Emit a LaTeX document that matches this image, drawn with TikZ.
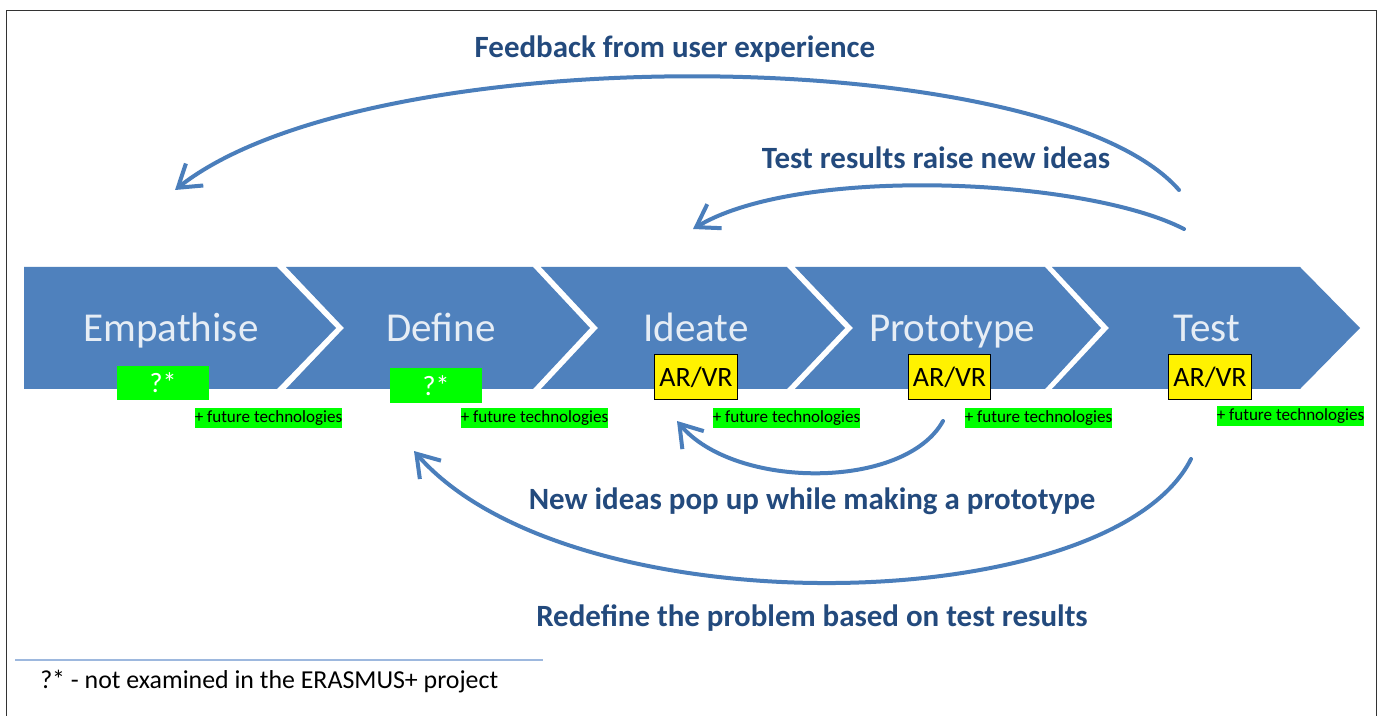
\documentclass[tikz,border=0pt]{standalone}
\usepackage{fontspec}
\setmainfont{Carlito}
\usetikzlibrary{arrows.meta}
\definecolor{chev}{HTML}{4F81BD}
\definecolor{lab}{HTML}{234A7D}
\definecolor{curve}{HTML}{4A7EBB}
\definecolor{stage}{HTML}{E6EDF5}
\definecolor{lime}{HTML}{00FF00}
\definecolor{rulec}{HTML}{9DB8DE}
\tikzset{
  x=0.75pt,y=-0.75pt,
  chevron/.style={fill=chev,draw=none},
  stagetext/.style={text=stage,font=\fontsize{30.8pt}{32pt}\selectfont,inner sep=0pt,anchor=base},
  flowlabel/.style={text=lab,font=\bfseries\fontsize{23.2pt}{25pt}\selectfont,inner sep=0pt,anchor=base},
  arvr/.style={fill=yellow,draw=black,line width=0.9pt,minimum width=62pt,minimum height=34pt,inner sep=0pt,font=\fontsize{21pt}{22pt}\selectfont,text=black},
  unknown/.style={fill=lime,minimum width=69.5pt,minimum height=25.5pt,inner sep=0pt,font=\fontsize{21pt}{22pt}\selectfont,text=white},
  future/.style={fill=lime,minimum width=110.5pt,minimum height=15.5pt,inner sep=0pt,font=\fontsize{12.8pt}{14pt}\selectfont,text=black},
  flow/.style={draw=curve,line width=3pt,line cap=round,-{Straight Barb[length=16pt,width=21pt,line width=3pt]}},
}
\begin{document}
\begin{tikzpicture}
\useasboundingbox (0,0) rectangle (1381,716);
\fill[white] (0,0) rectangle (1381,716);
\draw[black!80,line width=1pt] (6.5,716) -- (6.5,10.5) -- (1376.5,10.5) -- (1376.5,716);
% chevrons
\fill[chevron] (24,267) -- (277,267) -- (336,328) -- (277,389) -- (24,389) -- cycle;
\fill[chevron] (286,267) -- (533,267) -- (590,328) -- (533,389) -- (286,389) -- (344,328) -- cycle;
\fill[chevron] (541,267) -- (787,267) -- (845,328) -- (787,389) -- (541,389) -- (598,328) -- cycle;
\fill[chevron] (795,267) -- (1045,267) -- (1101,328) -- (1045,389) -- (795,389) -- (853,328) -- cycle;
\fill[chevron] (1052,267) -- (1300,267) -- (1360,328) -- (1300,389) -- (1052,389) -- (1109,328) -- cycle;
% stage names
\node[stagetext] (s1) at (171,342) {Empathise};
\node[stagetext] (s2) at (441,342) {Define};
\node[stagetext] (s3) at (696,342) {Ideate};
\node[stagetext] (s4) at (952,342) {Prototype};
\node[stagetext] (s5) at (1207,342) {Test};
% boxes
\node[unknown] (q1) at (163,383) {?*};
\node[unknown] (q2) at (436,385.5) {?*};
\node[arvr] (a3) at (696,377) {AR/VR};
\node[arvr] (a4) at (949.5,377) {AR/VR};
\node[arvr] (a5) at (1210,377) {AR/VR};
\node[future] (f1) at (268.5,418) {+ future technologies};
\node[future] (f2) at (534.5,418) {+ future technologies};
\node[future] (f3) at (786.5,418) {+ future technologies};
\node[future] (f4) at (1038.5,418) {+ future technologies};
\node[future] (f5) at (1290.5,416) {+ future technologies};
% flow labels
\node[flowlabel] (l1) at (675,58) {Feedback from user experience};
\node[flowlabel] (l2) at (936,169) {Test results raise new ideas};
\node[flowlabel] (l3) at (812,509) {New ideas pop up while making a prototype};
\node[flowlabel] (l4) at (812,626) {Redefine the problem based on test results};
% anchors for the curves
\coordinate (c1s) at (1179,190);
\coordinate (c1e) at (175,190);
\coordinate (c2s) at (1184,229);
\coordinate (c2e) at (693,229);
\coordinate (c3s) at (943,421);
\coordinate (c3e) at (677,421);
\coordinate (c4s) at (1191,459);
\coordinate (c4e) at (414,451);
% curves
\draw[flow] (c1s) .. controls (1050,42) and (370,36) .. (c1e);
\draw[flow] (c2s) .. controls (1085,178) and (800,165) .. (c2e);
\draw[flow] (c3s) .. controls (905,490) and (735,490) .. (c3e);
\draw[flow] (c4s) .. controls (1110,620) and (570,630) .. (c4e);
% footnote
\coordinate (r1) at (15,660);
\coordinate (r2) at (543,660);
\draw[rulec,line width=0.8pt] (r1) -- (r2);
\node[inner sep=0pt,anchor=base west,font=\fontsize{19.4pt}{21pt}\selectfont,text=black] (fn) at (40,688) {?* - not examined in the ERASMUS+ project};
\end{tikzpicture}
\end{document}
